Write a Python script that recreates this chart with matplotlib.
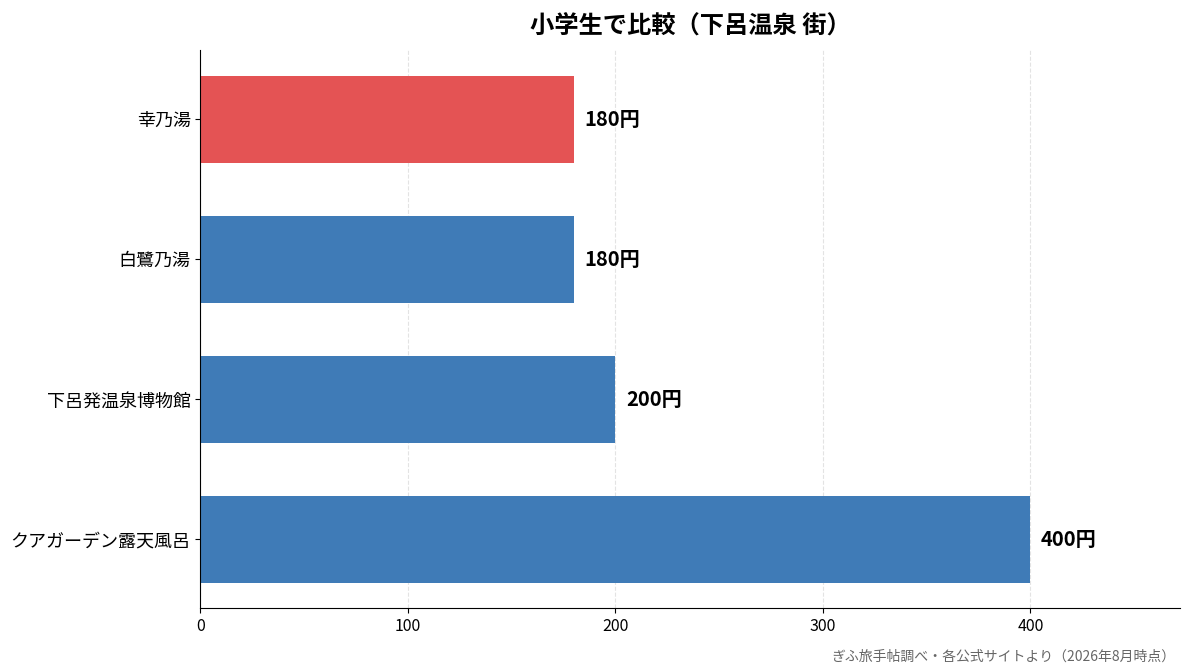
import matplotlib
matplotlib.use("Agg")
import matplotlib.pyplot as plt

plt.rcParams['font.family'] = ['Noto Sans CJK JP', 'DejaVu Sans']

names = ["クアガーデン露天風呂", "下呂発温泉博物館", "白鷺乃湯", "幸乃湯"]
prices = [400, 200, 180, 180]
colors = ["#3f7bb7", "#3f7bb7", "#3f7bb7", "#e45354"]

fig, ax = plt.subplots(figsize=(11.93, 6.72), dpi=100)
fig.subplots_adjust(left=0.168, right=0.989, top=0.925, bottom=0.095)

bars = ax.barh(names, prices, height=0.62, color=colors)
for b, p in zip(bars, prices):
    ax.text(b.get_width() + 5, b.get_y() + b.get_height() / 2, f"{p}円",
            va="center", ha="left", fontsize=14.5, fontweight="bold")

ax.set_xlim(0, max(prices) * 1.18)
ax.set_title("小学生で比較（下呂温泉 街）", fontsize=17.5, fontweight="bold", pad=12)
ax.tick_params(axis="y", labelsize=13)
ax.tick_params(axis="x", labelsize=11.5)
ax.grid(axis="x", linestyle="--", color="#dddddd", alpha=0.8)
ax.set_axisbelow(True)
ax.spines["top"].set_visible(False)
ax.spines["right"].set_visible(False)

fig.text(0.985, 0.013, "ぎふ旅手帖調べ・各公式サイトより（2026年8月時点）",
         ha="right", va="bottom", fontsize=10, color="#666666")

fig.savefig("out.png", dpi=100)
